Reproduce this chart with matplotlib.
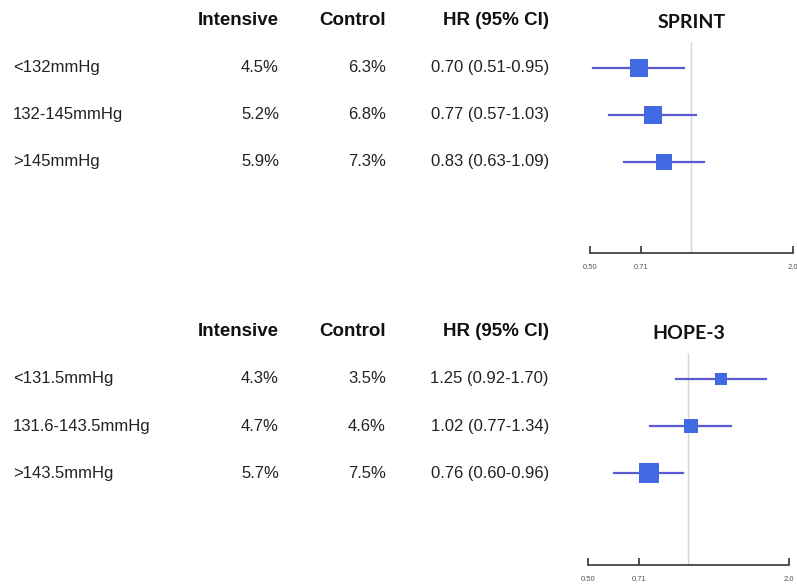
import matplotlib
matplotlib.use("Agg")
import matplotlib.pyplot as plt
from matplotlib import transforms
from matplotlib.ticker import NullLocator, FixedLocator, FixedFormatter

plt.rcParams['font.family'] = ['Liberation Sans', 'DejaVu Sans']

# SPRINT subgroups by baseline systolic BP
sprint_groups = ['<132mmHg', '132-145mmHg', '>145mmHg']
sprint_intensive = [4.5, 5.2, 5.9]
sprint_control = [6.3, 6.8, 7.3]
sprint_hr = [0.70, 0.77, 0.83]
sprint_lo = [0.51, 0.57, 0.63]
sprint_hi = [0.95, 1.03, 1.09]

# HOPE-3 subgroups
hope_groups = ['<131.5mmHg', '131.6-143.5mmHg', '>143.5mmHg']
hope_intensive = [4.3, 4.7, 5.7]
hope_control = [3.5, 4.6, 7.5]
hope_hr = [1.25, 1.02, 0.76]
hope_lo = [0.92, 0.77, 0.60]
hope_hi = [1.70, 1.34, 0.96]

tick_vals = [0.50, 0.71, 2.0]
tick_labels = ['0.50', '0.71', '2.0']

box_color = '#4169e1'
ci_color = '#5a5ad2'

fig = plt.figure(figsize=(7.97, 5.86), dpi=100)


def draw_panel(ax, title, groups, inten, ctrl, hr, lo, hi, box_sizes):
    ax.set_xscale('log')
    ax.set_xlim(0.5, 2.0)
    ax.set_ylim(3.95, -0.55)
    ax.axvline(1.0, color='#d4d4d4', lw=1.0, zorder=1)

    for i in range(len(groups)):
        ax.plot([lo[i], hi[i]], [i, i], color=ci_color, lw=1.6, zorder=2)
        ax.plot(hr[i], i, marker='s', ms=box_sizes[i], color=box_color,
                markeredgewidth=0, zorder=3)

    for s in ['top', 'left', 'right']:
        ax.spines[s].set_visible(False)
    ax.spines['bottom'].set_color('#333333')
    ax.spines['bottom'].set_linewidth(1.2)
    ax.set_yticks([])
    ax.xaxis.set_major_locator(FixedLocator(tick_vals))
    ax.xaxis.set_major_formatter(FixedFormatter(tick_labels))
    ax.xaxis.set_minor_locator(NullLocator())
    ax.tick_params(axis='x', direction='in', length=5, width=1.2,
                   color='#333333', labelsize=5.5, labelcolor='#555555', pad=8)
    ax.patch.set_alpha(0)

    ax.text(1.0, -0.97, title, ha='center', va='center', fontsize=14,
            fontweight='bold', family='Lato', color='#111111', clip_on=False)

    # table columns: x in figure fraction, y follows the forest rows
    tr = transforms.blended_transform_factory(fig.transFigure, ax.transData)
    col_lab, col_int, col_ctl, col_hr = 0.0163, 0.350, 0.4843, 0.6888
    hdr = dict(transform=tr, ha='right', va='center', fontsize=13.5,
               fontweight='bold', color='#111111')
    fig.text(col_int, -1.0, 'Intensive', **hdr)
    fig.text(col_ctl, -1.0, 'Control', **hdr)
    fig.text(col_hr, -1.0, 'HR (95% CI)', **hdr)
    for i, g in enumerate(groups):
        fig.text(col_lab, i, g, transform=tr, ha='left', va='center',
                 fontsize=12, color='#222222')
        fig.text(col_int, i, f'{inten[i]:.1f}%', transform=tr, ha='right',
                 va='center', fontsize=12, color='#222222')
        fig.text(col_ctl, i, f'{ctrl[i]:.1f}%', transform=tr, ha='right',
                 va='center', fontsize=12, color='#222222')
        fig.text(col_hr, i, f'{hr[i]:.2f} ({lo[i]:.2f}-{hi[i]:.2f})',
                 transform=tr, ha='right', va='center', fontsize=12,
                 color='#222222')


ax1 = fig.add_axes([0.7403, 0.5683, 0.2543, 0.3601])
ax2 = fig.add_axes([0.7374, 0.0358, 0.2529, 0.3618])

draw_panel(ax1, 'SPRINT', sprint_groups, sprint_intensive, sprint_control,
           sprint_hr, sprint_lo, sprint_hi, [12.5, 12.5, 12.0])
draw_panel(ax2, 'HOPE-3', hope_groups, hope_intensive, hope_control,
           hope_hr, hope_lo, hope_hi, [8.0, 10.5, 14.5])

fig.savefig('out.png', dpi=100, facecolor='white')
